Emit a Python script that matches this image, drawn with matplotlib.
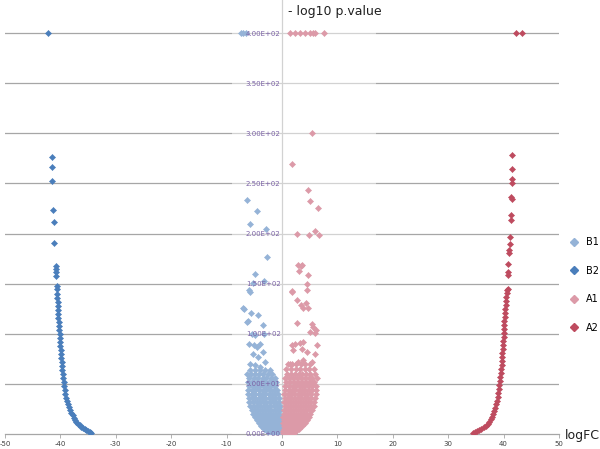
import numpy as np
import matplotlib.pyplot as plt
from matplotlib.lines import Line2D

# ---- data ----
# B1 dense cloud: rows of (y, [x...])
b1_rows = [
    (1, [-2.1, -1.7, -1.3, -0.9, -0.5, -0.1]),
    (3, [-2.7, -2.3, -1.9, -1.5, -1.1, -0.7, -0.3]),
    (5, [-3.2, -2.8, -2.4, -2.0, -1.6, -1.2, -0.8, -0.4]),
    (8, [-3.8, -3.3, -2.8, -2.3, -1.8, -1.3, -0.8, -0.3]),
    (11, [-4.2, -3.7, -3.1, -2.6, -2.1, -1.6, -1.1, -0.6, -0.2]),
    (14, [-4.6, -4.0, -3.4, -2.8, -2.2, -1.6, -1.0, -0.5]),
    (17, [-4.9, -4.3, -3.7, -3.1, -2.5, -1.9, -1.3, -0.8, -0.3]),
    (20, [-5.2, -4.6, -4.0, -3.4, -2.8, -2.2, -1.6, -1.0, -0.5]),
    (24, [-5.5, -4.9, -4.3, -3.7, -3.1, -2.5, -1.9, -1.3, -0.7, -0.3]),
    (28, [-5.7, -5.1, -4.5, -3.9, -3.3, -2.7, -2.1, -1.5, -0.9, -0.4]),
    (32, [-5.9, -5.2, -4.6, -4.0, -3.4, -2.8, -2.2, -1.6, -1.0, -0.5]),
    (36, [-6.0, -5.4, -4.8, -4.2, -3.6, -3.0, -2.4, -1.8, -1.2, -0.6]),
    (40, [-6.1, -5.5, -4.9, -4.2, -3.6, -3.0, -2.4, -1.8, -1.2, -0.7]),
    (44, [-6.2, -5.5, -4.8, -4.1, -3.5, -2.9, -2.2, -1.5, -0.9]),
    (48, [-6.0, -5.3, -4.6, -3.9, -3.2, -2.6, -1.9, -1.2]),
    (52, [-6.1, -5.4, -4.5, -3.8, -3.1, -2.4, -1.7, -1.1]),
    (56, [-5.9, -5.1, -4.3, -3.5, -2.8, -2.0, -1.3]),
    (60, [-6.3, -5.6, -4.9, -4.2, -3.4, -2.6, -1.8]),
    (64, [-5.7, -4.8, -3.9, -3.0, -2.2]),
]
b1_x = [-5.78, -4.87, -3.97, -3.07, -5.17, -4.27, -3.37, -5.9, -5.05, -4.57, -3.97,
        -5.47, -4.87, -3.19, -6.38, -6.08, -3.37, -6.86, -5.65, -4.27, -6.98, -5.78,
        -5.9, -5.3, -3.19, -4.87, -2.65, -5.78, -2.94, -4.57, -6.26, -7.45, -7.0, -6.5]
b1_y = [70, 69, 67, 72, 80, 77, 82, 90, 89, 87, 90,
        100, 99, 100, 112, 113, 109, 125, 121, 119, 126, 142,
        144, 151, 153, 160, 177, 210, 205, 222, 233, 400, 400, 400]

# B2 curve
b2_x = [-34.4, -34.7, -35.0, -35.3, -35.6, -35.9, -36.2, -36.5, -36.8, -37.1, -37.4,
        -37.6, -37.8, -38.0, -38.2, -38.4, -38.6, -38.8, -38.95, -39.1, -39.2, -39.3,
        -39.4, -39.5, -39.6, -39.7, -39.75, -39.8, -39.85, -39.9, -39.95, -40.0, -40.05,
        -40.1, -40.15, -40.2, -40.25, -40.3, -40.35, -40.4, -40.45, -40.5, -40.5, -40.55,
        -40.6, -40.7, -40.7, -40.85, -40.85, -40.8, -40.85,
        -41.1, -41.2, -41.3, -41.5, -41.5, -41.6, -42.2]
b2_y = [0.5, 1.5, 2.5, 3.5, 4.5, 5.5, 7, 8.5, 10, 12, 14,
        16, 18.5, 21, 24, 27, 30, 33, 36, 40, 44, 48,
        52, 56, 60, 64, 68, 72, 76, 80, 84, 88, 92,
        96, 100, 104, 108, 112, 116, 120, 124, 128, 132, 136,
        140, 145, 148, 158, 162, 165, 168,
        191, 212, 223, 252, 266, 276, 400]

# A1 dense cloud
a1_rows = [
    (1, [0.2, 0.6, 1.0, 1.4, 1.8, 2.2]),
    (3, [0.2, 0.6, 1.0, 1.4, 1.8, 2.2, 2.6]),
    (5, [0.3, 0.7, 1.1, 1.5, 1.9, 2.3, 2.7, 3.1]),
    (8, [0.3, 0.8, 1.3, 1.8, 2.3, 2.8, 3.3, 3.7]),
    (11, [0.2, 0.7, 1.2, 1.7, 2.2, 2.7, 3.2, 3.7, 4.2]),
    (14, [0.4, 0.9, 1.5, 2.1, 2.7, 3.3, 3.9, 4.5]),
    (17, [0.2, 0.7, 1.3, 1.9, 2.5, 3.1, 3.7, 4.3, 4.8]),
    (20, [0.4, 1.0, 1.6, 2.2, 2.8, 3.4, 4.0, 4.6, 5.1]),
    (24, [0.3, 0.8, 1.4, 2.0, 2.6, 3.2, 3.8, 4.4, 5.0, 5.4]),
    (28, [0.5, 1.1, 1.7, 2.3, 2.9, 3.5, 4.1, 4.7, 5.2, 5.7]),
    (32, [0.3, 0.8, 1.4, 2.0, 2.6, 3.2, 3.8, 4.4, 5.0, 5.8]),
    (36, [0.5, 1.1, 1.7, 2.3, 2.9, 3.5, 4.1, 4.7, 5.3, 5.9]),
    (40, [0.4, 1.0, 1.6, 2.2, 2.8, 3.4, 4.0, 4.6, 5.3, 6.1]),
    (44, [0.6, 1.2, 1.8, 2.4, 3.0, 3.6, 4.2, 4.8, 5.5, 6.2]),
    (48, [0.5, 1.2, 1.9, 2.6, 3.3, 4.0, 4.7, 5.4, 6.2]),
    (52, [0.8, 1.5, 2.2, 2.9, 3.6, 4.3, 5.0, 5.7]),
    (56, [0.6, 1.3, 2.0, 2.7, 3.4, 4.1, 4.8, 5.5, 6.3]),
    (60, [0.9, 1.6, 2.3, 3.0, 3.7, 4.4, 5.1, 6.0]),
    (65, [0.8, 1.7, 2.5, 3.3, 4.1, 4.9, 5.7]),
    (70, [1.0, 1.8, 2.6, 3.4, 4.2, 5.0]),
]
a1_x = [1.44, 2.94, 3.85, 5.36, 1.75, 2.35, 3.25, 3.85, 2.04, 3.56, 4.45, 6.26, 5.96,
        2.76, 5.36, 5.66, 6.14, 5.96, 5.05, 3.38, 3.74, 4.33, 4.75, 1.75, 4.45,
        2.76, 1.8, 4.57, 4.75, 3.13, 2.94, 3.38, 3.56, 2.65, 4.87, 6.68, 6.0,
        6.44, 5.05, 4.63, 1.8, 5.47,
        1.44, 2.4, 3.25, 4.15, 5.05, 5.65, 5.96, 7.58]
a1_y = [70, 72, 74, 72, 89, 90, 91, 92, 84, 85, 82, 89, 80,
        111, 110, 107, 104, 101, 102, 129, 126, 131, 126, 142, 144,
        134, 143, 150, 159, 163, 169, 168, 169, 200, 199, 199, 203,
        225, 232, 243, 269, 300,
        400, 400, 400, 400, 400, 400, 400, 400]

# A2 curve
a2_x = [34.4, 34.8, 35.2, 35.6, 36.0, 36.4, 36.8, 37.1, 37.4, 37.7, 37.9, 38.1,
        38.3, 38.45, 38.6, 38.75, 38.9, 39.0, 39.1, 39.2, 39.3, 39.4, 39.5, 39.55,
        39.65, 39.7, 39.75, 39.8, 39.85, 39.9, 39.95, 40.0, 40.05, 40.1, 40.1, 40.15,
        40.2, 40.25, 40.3, 40.35, 40.4, 40.5, 40.55, 40.65, 40.73, 40.85, 40.85,
        40.85, 41.0, 41.0, 41.16, 41.16, 41.28, 41.28, 41.46, 41.3, 41.5, 41.5,
        41.6, 41.6, 42.2, 43.4]
a2_y = [0.5, 1.5, 2.5, 3.5, 5, 6.5, 8, 10, 12, 14.5, 17, 20,
        23, 26, 29.5, 33, 37, 41, 45, 49, 53, 57, 61, 65,
        69, 73, 77, 81, 85, 89, 93, 97, 101, 105, 109, 113,
        117, 121, 125, 129, 133, 137, 141, 144, 145, 159, 162,
        170, 181, 184, 190, 197, 214, 218.5, 234, 236, 250, 254,
        264, 278, 400, 400]

series_names = ["B1", "B2", "A1", "A2"]
series_colors = ["#95b3d7", "#4a7ebb", "#dc9aa8", "#be4b5f"]

y_ticks = [0, 50, 100, 150, 200, 250, 300, 350, 400]
y_tick_labels = ["0.00E+00", "5.00E+01", "1.00E+02", "1.50E+02", "2.00E+02",
                 "2.50E+02", "3.00E+02", "3.50E+02", "4.00E+02"]
x_ticks = [-50, -40, -30, -20, -10, 0, 10, 20, 30, 40, 50]

# flatten the dense clouds
b1_all_x = [x for y, xs in b1_rows for x in xs] + b1_x
b1_all_y = [y for y, xs in b1_rows for x in xs] + b1_y
a1_all_x = [x for y, xs in a1_rows for x in xs] + a1_x
a1_all_y = [y for y, xs in a1_rows for x in xs] + a1_y

# ---- plotting ----
fig = plt.figure(figsize=(6, 4.49), dpi=100)
ax = fig.add_axes([5 / 600, 1 - 434 / 449, 554 / 600, 434 / 449])
ax.set_xlim(-50, 50)
ax.set_ylim(0, 433)

for yt in y_ticks[1:]:
    ax.axhline(yt, color="#a6a6a6", lw=0.9, zorder=0.5)

# lighter centre band
ax.axvspan(-9, 17, color="white", alpha=0.5, lw=0, zorder=2.6)

ms = 3.1
data = [(b1_all_x, b1_all_y), (b2_x, b2_y), (a1_all_x, a1_all_y), (a2_x, a2_y)]
for (xs, ys), name, col in zip(data, series_names, series_colors):
    ax.plot(xs, ys, ls="none", marker="D", ms=ms, mfc=col, mec=col, mew=0.4,
            zorder=3, label=name)

for s in ["top", "right"]:
    ax.spines[s].set_visible(False)
ax.spines["left"].set_position(("data", 0))
ax.spines["left"].set_color("#a6a6a6")
ax.spines["left"].set_linewidth(0.9)
ax.spines["bottom"].set_color("#a6a6a6")
ax.spines["bottom"].set_linewidth(0.9)

ax.set_yticks(y_ticks)
ax.set_yticklabels(y_tick_labels, fontsize=5, color="#7b62a6")
ax.tick_params(axis="y", length=0, pad=1)
ax.yaxis.set_zorder(5)

ax.set_xticks(x_ticks)
ax.set_xticklabels([str(v) for v in x_ticks], fontsize=5, color="#404040")
ax.tick_params(axis="x", length=3, width=0.6, color="#a6a6a6", pad=2)

fig.text(288 / 600, 1 - 11 / 449, "- log10 p.value", fontsize=9, va="center",
         ha="left", color="#202020")
fig.text(565 / 600, 1 - 435 / 449, "logFC", fontsize=9, va="center",
         ha="left", color="#202020")

handles = [Line2D([], [], ls="none", marker="D", ms=4, mfc=c, mec=c)
           for c in series_colors]
fig.legend(handles, series_names, loc="center left", bbox_to_anchor=(0.948, 0.365),
           frameon=False, fontsize=7, labelspacing=1.9, handlelength=1,
           handletextpad=0.8, borderpad=0, borderaxespad=0)

fig.savefig("out.png", dpi=100)
